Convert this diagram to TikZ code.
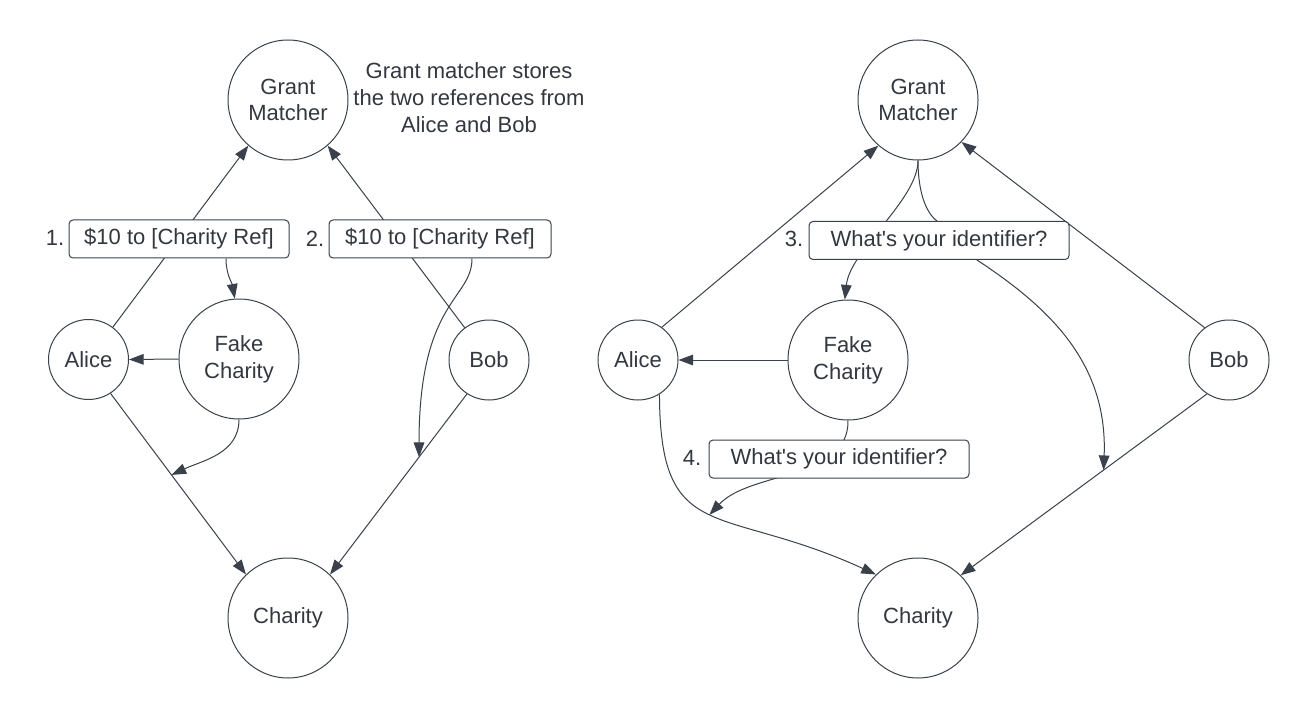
\documentclass[tikz,border=0pt]{standalone}
\usepackage{fontspec}
\setmainfont{Liberation Sans}
\usetikzlibrary{arrows.meta,calc}
\definecolor{ink}{RGB}{58,65,74}
\definecolor{txt}{RGB}{51,56,64}
\pgfdeclarelayer{bg}
\pgfsetlayers{bg,main}
\begin{document}
\begin{tikzpicture}[x=0.75pt,y=0.75pt,
  font=\fontsize{16.5pt}{20pt}\selectfont, text=txt,
  big/.style={circle,draw=ink,line width=0.75pt,fill=white,minimum size=90pt,inner sep=0pt,align=center},
  small/.style={circle,draw=ink,line width=0.75pt,fill=white,minimum size=60pt,inner sep=0pt,align=center},
  lbl/.style={rectangle,rounded corners=3pt,draw=ink,fill=white,line width=0.75pt,minimum height=28.5pt,inner sep=0pt},
  conn/.style={draw=ink,line width=0.75pt},
  arr/.style={conn,-{Triangle[length=11pt,width=8pt]}}
]
\useasboundingbox (0,0) rectangle (1309,-720);

% ---------- left diagram ----------
\node[big] (gmL) at (288,-100) {Grant\\Matcher};
\node[big] (fakeL) at (239,-359) {Fake\\Charity};
\node[small] (aliceL) at (88.5,-359.5) {Alice};
\node[small] (bobL) at (489,-360) {Bob};
\node[big] (charityL) at (288,-618) {Charity};
\node[lbl,minimum width=165pt] (box1) at (179,-239) {\$10 to [Charity Ref]};
\node[lbl,minimum width=166.5pt] (box2) at (440,-239) {\$10 to [Charity Ref]};
\node (n1) at (55,-238) {1.};
\node (n2) at (315,-239) {2.};
\node[align=center] (note) at (469,-97.5) {Grant matcher stores\\the two references from\\Alice and Bob};

% ---------- right diagram ----------
\node[big] (gmR) at (918,-100) {Grant\\Matcher};
\node[big] (fakeR) at (848,-360) {Fake\\Charity};
\node[small] (aliceR) at (638,-360) {Alice};
\node[small] (bobR) at (1229,-360) {Bob};
\node[big] (charityR) at (918,-618) {Charity};
\node[lbl,minimum width=195pt] (box3) at (939,-240.5) {What\textquotesingle s your identifier?};
\node[lbl,minimum width=195pt] (box4) at (839,-459) {What\textquotesingle s your identifier?};
\node (n3) at (794,-239) {3.};
\node (n4) at (692,-458) {4.};

\begin{pgfonlayer}{bg}
\fill[white] (0,0) rectangle (1309,-720);
% left connectors
\draw[arr] (aliceL.53) -- (gmL.229);
\draw[arr] (bobL.127) -- (gmL.-49);
\draw[arr] (aliceL.-57) -- (charityL.134);
\draw[arr] (bobL.237) -- (charityL.46);
\draw[arr] (fakeL.west) -- (aliceL.east);
\coordinate (pL) at ($(aliceL.-57)!0.45!(charityL.134)$);
\coordinate (pB) at ($(bobL.237)!0.35!(charityL.46)$);
\draw[arr] ($(box1.south)+(47,0)$) to[out=-90,in=100] (fakeL.94);
\draw[arr] (fakeL.south) to[out=-90,in=25] (pL);
\draw[arr] ($(box2.south)+(32,0)$) .. controls ($(box2.south)+(32,-41)$) and ($(pB)+(0,157)$) .. (pB);
% right connectors
\draw[arr] (aliceR.54) -- (gmR.229);
\draw[arr] (bobR.127) -- (gmR.-44);
\draw[arr] (bobR.237) -- (charityR.45);
\draw[arr] (fakeR.west) -- (aliceR.east);
\draw[arr] (aliceR.-58) .. controls (660,-547) and (720,-503) .. (charityR.134) coordinate[pos=0.5] (pR2);
\coordinate (pR1) at ($(bobR.237)!0.42!(charityR.45)$);
\draw[arr] (gmR.south) .. controls (918,-200) and (850,-250) .. (fakeR.93);
\draw[arr] (gmR.south) .. controls (918,-190) and (925,-212) .. ($(box3.north)+(-2,0)$) -- ($(box3.south)+(38,0)$) .. controls (1045,-305) and (1108,-360) .. (pR1);
\draw[arr] (fakeR.south) .. controls (849,-480) and ($(pR2)+(41,44)$) .. (pR2);
\end{pgfonlayer}
\end{tikzpicture}
\end{document}
